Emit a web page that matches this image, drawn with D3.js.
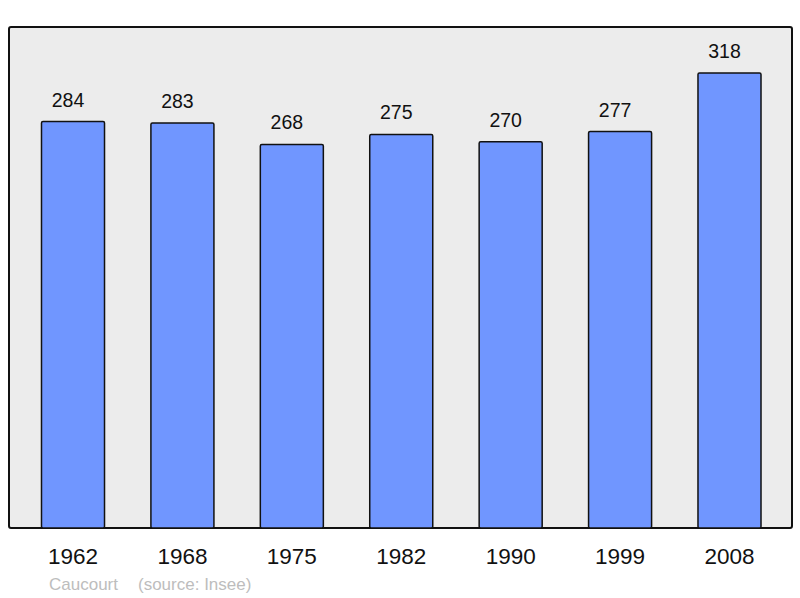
<!DOCTYPE html>
<html>
<head>
<meta charset="utf-8">
<script src="https://cdn.jsdelivr.net/npm/d3@7"></script>
<style>
  body { margin: 0; background: #fff; }
  svg { display: block; font-family: "Liberation Sans", Arial, sans-serif; }
</style>
</head>
<body>
<svg width="800" height="598"></svg>
<script>
// данные
const years = ["1962", "1968", "1975", "1982", "1990", "1999", "2008"];
const population = [284, 283, 268, 275, 270, 277, 318];
const commune = "Caucourt";
const source = "(source: Insee)";

const svg = d3.select("svg");

const area = { left: 9, top: 27, right: 792, bottom: 528 };

// фон панели
svg.append("rect")
    .attr("x", area.left)
    .attr("y", area.top)
    .attr("width", area.right - area.left)
    .attr("height", area.bottom - area.top)
    .attr("rx", 2)
    .style("fill", "#ececec")
    .style("stroke", "#111")
    .style("stroke-width", 2);

const scX = d3.scaleBand()
    .domain(years)
    .range([18.3, 784.2])
    .paddingInner(0.424)
    .paddingOuter(0.212);

const scY = d3.scaleLinear()
    .domain([0, 350])
    .range([area.bottom, area.bottom - 350 * 1.431]);

const data = years.map((y, i) => ({ year: y, value: population[i] }));

svg.selectAll(".bar")
    .data(data)
    .enter()
    .append("rect")
    .attr("class", "bar")
    .attr("x", d => scX(d.year))
    .attr("y", d => scY(d.value))
    .attr("width", scX.bandwidth())
    .attr("height", d => scY(0) - scY(d.value))
    .attr("rx", 1.5)
    .style("fill", "#7096ff")
    .style("stroke", "#111")
    .style("stroke-width", 1.5);

// подписи значений (немного левее центра, как в оригинале)
svg.selectAll(".val")
    .data(data)
    .enter()
    .append("text")
    .attr("class", "val")
    .attr("x", d => scX(d.year) + scX.bandwidth() / 2 - 5)
    .attr("y", d => scY(d.value) - 15)
    .attr("text-anchor", "middle")
    .style("font-size", "19.5px")
    .style("fill", "#111")
    .text(d => d.value);

// нижняя ось (только подписи)
svg.append("g")
    .attr("transform", `translate(0, ${area.bottom})`)
    .call(d3.axisBottom(scX).tickSize(0).tickPadding(20))
    .call(g => g.select(".domain").remove())
    .selectAll("text")
    .style("font-family", "Liberation Sans, Arial, sans-serif")
    .style("font-size", "22.5px")
    .style("fill", "#111");

// источник
svg.append("text")
    .attr("x", 49)
    .attr("y", 590)
    .style("font-size", "17px")
    .style("fill", "#bdbdbd")
    .text(commune);

svg.append("text")
    .attr("x", 138)
    .attr("y", 590)
    .style("font-size", "17px")
    .style("fill", "#bdbdbd")
    .text(source);
</script>
</body>
</html>
